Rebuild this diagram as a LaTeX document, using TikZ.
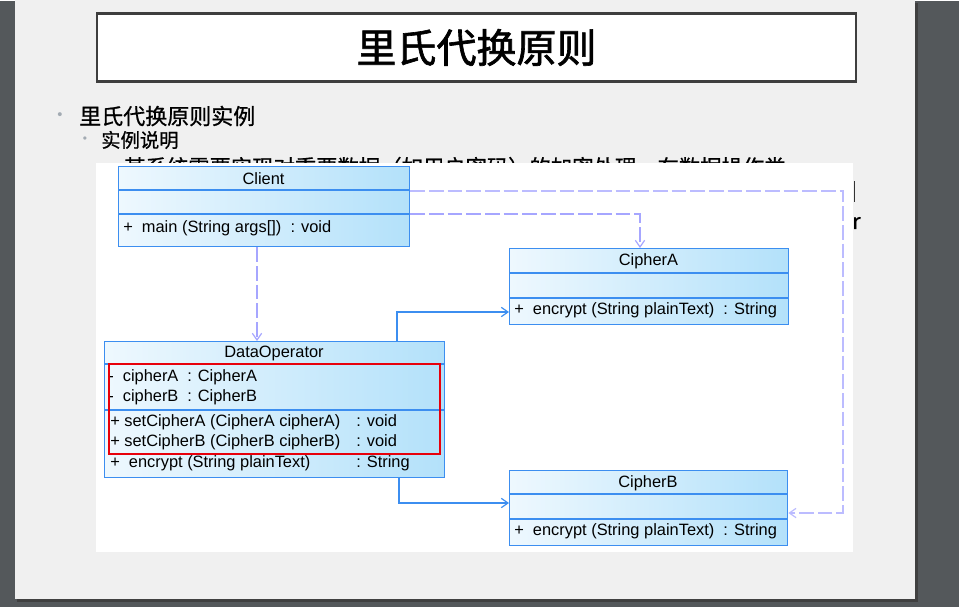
\documentclass[tikz,border=0pt]{standalone}
\usepackage{fontspec}
\setmainfont{Liberation Sans}
\newfontfamily\cjk{Noto Sans CJK SC}
\newfontfamily\cjktitulo{Noto Sans CJK SC}[FakeBold=1.6]
\newfontfamily\cjkcuerpo{Noto Sans CJK SC}[FakeBold=0.8]
\usetikzlibrary{arrows.meta}

\definecolor{fondo}{HTML}{54585B}
\definecolor{diapo}{HTML}{F0F0F0}
\definecolor{marco}{HTML}{3E3E3E}
\definecolor{vineta}{HTML}{A3ABB3}
\definecolor{umlazul}{HTML}{3C8EF0}
\definecolor{umlclaro}{HTML}{EEF8FE}
\definecolor{umloscuro}{HTML}{B3E1FA}
\definecolor{depcolor}{HTML}{A6A6FF}
\definecolor{rojo}{HTML}{E8000B}

\begin{document}
\begin{tikzpicture}[
  x=0.75pt, y=-0.75pt,
  clase/.style={draw=umlazul, line width=1pt, left color=umlclaro, right color=umloscuro,
    inner sep=0pt, anchor=north west},
  sep/.style={draw=umlazul, line width=1pt},
  txt/.style={font=\fontsize{12.3}{14}\selectfont, inner sep=0pt, anchor=west,
    text height=9pt, text depth=2.6pt},
  nom/.style={font=\fontsize{12.3}{14}\selectfont, inner sep=0pt},
  dep/.style={draw=depcolor, line width=0.9pt, dash pattern=on 11pt off 3pt,
    -{Straight Barb[length=5pt, width=7pt]}},
  asoc/.style={draw=umlazul, line width=0.9pt, -{Straight Barb[length=5pt, width=7pt]}}
]

  % Fondo y diapositiva
  \fill[fondo] (0,0) rectangle (959,606);
  \fill[black!75] (17,2) rectangle (918,601);
  \fill[diapo] (15,-1) rectangle (915,598);

  % Titulo
  \node[draw=marco, line width=1.8pt, fill=white, minimum width=759*0.75pt,
    minimum height=68*0.75pt, font=\cjktitulo\fontsize{30}{32}\selectfont] (titulo) at (476.5,46.5) {里氏代换原则};

  % Viñetas
  \node[text=vineta, font=\fontsize{11}{12}\selectfont] (v1) at (60,115) {\textbullet};
  \node[anchor=west, inner sep=0pt, font=\cjkcuerpo\fontsize{16.5}{18}\selectfont] (punto1) at (79,115) {里氏代换原则实例};
  \node[text=vineta, font=\fontsize{9}{10}\selectfont] (v2) at (85,139) {\textbullet};
  \node[anchor=west, inner sep=0pt, font=\cjkcuerpo\fontsize{14.5}{16}\selectfont] (punto2) at (101,139) {实例说明};
  \node[anchor=west, inner sep=0pt, text depth=0pt, font=\cjkcuerpo\fontsize{16}{18}\selectfont] (linea3) at (124,165) {某系统需要实现对重要数据（如用户密码）的加密处理，在数据操作类};
  \node[anchor=west, inner sep=0pt, font=\cjkcuerpo\fontsize{16}{18}\selectfont] (resto) at (852,222) {r};
  \draw[black!80, line width=1.1pt] (854.5,180) -- (854.5,201);

  % Imagen del diagrama
  \fill[white] (96,162) rectangle (853,551);

  % Clases
  \node[clase, minimum width=291*0.75pt, minimum height=80*0.75pt] (client) at (118,165) {};
  \node[clase, minimum width=279*0.75pt, minimum height=76*0.75pt] (cipherA) at (509,247) {};
  \node[clase, minimum width=340*0.75pt, minimum height=136*0.75pt] (dataop) at (104,340) {};
  \node[clase, minimum width=278*0.75pt, minimum height=75*0.75pt] (cipherB) at (509,469) {};

  % Compartimentos
  \draw[sep] (client.west |- 0,189) -- (client.east |- 0,189);
  \draw[sep] (client.west |- 0,213) -- (client.east |- 0,213);
  \draw[sep] (cipherA.west |- 0,272) -- (cipherA.east |- 0,272);
  \draw[sep] (cipherA.west |- 0,297) -- (cipherA.east |- 0,297);
  \draw[sep] (dataop.west |- 0,363) -- (dataop.east |- 0,363);
  \draw[sep] (dataop.west |- 0,409) -- (dataop.east |- 0,409);
  \draw[sep] (cipherB.west |- 0,493) -- (cipherB.east |- 0,493);
  \draw[sep] (cipherB.west |- 0,518) -- (cipherB.east |- 0,518);

  % Textos de las clases
  \node[nom] (client-nom) at (263.5,177.5) {Client};
  \node[txt] (client-op) at (123,227.5) {+\ \ main (String args[])\ \ : void};
  \node[nom] (cipherA-nom) at (648.5,260) {CipherA};
  \node[txt] (cipherA-op) at (514,309) {+\ \ encrypt (String plainText)\ \ : String};
  \node[nom] (dataop-nom) at (274,352) {DataOperator};
  \node[txt] (at1) at (108,376.5) {-\ \ cipherA};
  \node[txt] (at1t) at (187,376.5) {: CipherA};
  \node[txt] (at2) at (108,396.5) {-\ \ cipherB};
  \node[txt] (at2t) at (187,396.5) {: CipherB};
  \node[txt] (op1) at (110,421.5) {+ setCipherA (CipherA cipherA)};
  \node[txt] (op1t) at (356,421.5) {: void};
  \node[txt] (op2) at (110,441.5) {+ setCipherB (CipherB cipherB)};
  \node[txt] (op2t) at (356,441.5) {: void};
  \node[txt] (op3) at (110,462.5) {+\ \ encrypt (String plainText)};
  \node[txt] (op3t) at (356,462.5) {: String};
  \node[nom] (cipherB-nom) at (648,482) {CipherB};
  \node[txt] (cipherB-op) at (514,530.5) {+\ \ encrypt (String plainText)\ \ : String};

  % Marca roja
  \draw[rojo, line width=1.9pt] (109,363) rectangle (440,453);

  % Puntos de quiebre de las relaciones
  \coordinate (dc) at (257,300);
  \coordinate (codoA) at (640,213);
  \coordinate (codoB1) at (843,190);
  \coordinate (codoB2) at (843,512);
  \coordinate (codoC) at (397,311);
  \coordinate (codoD) at (399,502);

  % Dependencias
  \draw[dep] (client.south -| dc) -- (dataop.north -| dc);
  \draw[dep] (client.east |- codoA) -- (codoA) -- (codoA |- cipherA.north);
  \draw[dep, draw=depcolor!75] (client.east |- codoB1) -- (codoB1) -- (codoB2) -- (cipherB.east |- codoB2);

  % Asociaciones
  \draw[asoc] (dataop.north -| codoC) -- (codoC) -- (cipherA.west |- codoC);
  \draw[asoc] (dataop.south -| codoD) -- (codoD) -- (cipherB.west |- codoD);

\end{tikzpicture}
\end{document}
